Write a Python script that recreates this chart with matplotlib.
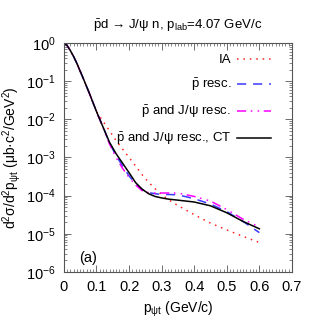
"""Differential cross section of pbar d -> J/psi n vs transverse momentum."""

import matplotlib
matplotlib.use("Agg")
import matplotlib.pyplot as plt
from matplotlib.ticker import (MultipleLocator, LogLocator, NullFormatter,
                               FuncFormatter)

plt.rcParams["font.family"] = ["Liberation Sans", "DejaVu Sans"]
plt.rcParams["mathtext.fontset"] = "custom"
plt.rcParams["mathtext.rm"] = "Liberation Sans"
plt.rcParams["mathtext.it"] = "Liberation Sans:italic"
plt.rcParams["mathtext.bf"] = "Liberation Sans:bold"

# transverse momentum grid (GeV/c)
p_t = [0.0, 0.01, 0.02, 0.03, 0.04, 0.06, 0.08, 0.10, 0.12, 0.14, 0.16,
       0.18, 0.20, 0.22, 0.24, 0.26, 0.28, 0.30, 0.32, 0.35, 0.40, 0.45,
       0.50, 0.55, 0.60]

# cross sections (ub c^2 / GeV^2)
ia = [1.0, 8.6e-1, 6.3e-1, 4.4e-1, 2.9e-1, 1.15e-1, 4.4e-2, 1.58e-2,
      8.9e-3, 5.0e-3, 2.8e-3, 1.66e-3, 1.0e-3, 6.0e-4, 3.55e-4, 2.24e-4,
      1.51e-4, 1.07e-4, 7.9e-5, 5.5e-5, 3.16e-5, 1.9e-5, 1.26e-5, 8.5e-6,
      5.9e-6]
p_resc = [1.0, 8.6e-1, 6.3e-1, 4.4e-1, 2.9e-1, 1.15e-1, 4.4e-2, 1.6e-2,
          6.3e-3, 2.4e-3, 1.12e-3, 6.0e-4, 3.3e-4, 2.0e-4, 1.45e-4, 1.2e-4,
          1.12e-4, 1.07e-4, 1.07e-4, 1.05e-4, 8.3e-5, 6.0e-5, 3.8e-5,
          2.1e-5, 1.07e-5]
p_psi_resc = [1.0, 8.6e-1, 6.3e-1, 4.4e-1, 2.9e-1, 1.15e-1, 4.4e-2, 1.6e-2,
              6.2e-3, 2.25e-3, 1.0e-3, 5.2e-4, 3.0e-4, 1.9e-4, 1.35e-4,
              1.2e-4, 1.17e-4, 1.17e-4, 1.17e-4, 1.17e-4, 9.5e-5, 7.2e-5,
              4.3e-5, 2.4e-5, 1.5e-5]
p_psi_resc_ct = [1.0, 8.6e-1, 6.3e-1, 4.4e-1, 2.9e-1, 1.15e-1, 4.4e-2,
                 1.6e-2, 6.3e-3, 2.5e-3, 1.26e-3, 7.1e-4, 4.0e-4, 2.2e-4,
                 1.48e-4, 1.12e-4, 9.5e-5, 8.7e-5, 8.1e-5, 7.6e-5, 6.8e-5,
                 5.4e-5, 3.55e-5, 2.1e-5, 1.35e-5]

PBAR = r"$\bar{\mathrm{p}}$"
labels = ["IA", PBAR + " resc.", PBAR + " and J/\u03c8 resc.",
          PBAR + " and J/\u03c8 resc., CT"]


def x_label(value, _pos):
    return "0" if abs(value) < 1e-9 else f"{value:.1f}"


def main() -> None:
    fig = plt.figure(figsize=(3.18, 3.34), dpi=100)
    ax = fig.add_axes([0.201, 0.186, 0.717, 0.685])

    lw = 1.1
    ax.plot(p_t, ia, color="#ff2020", lw=lw, linestyle=(0, (1, 3.2)),
            label=labels[0])
    ax.plot(p_t, p_resc, color="#3a3aff", lw=lw, linestyle=(0, (6, 4.5)),
            label=labels[1])
    ax.plot(p_t, p_psi_resc, color="#ff00ff", lw=lw,
            linestyle=(0, (6, 3, 1, 3.5, 1, 3)), label=labels[2])
    ax.plot(p_t, p_psi_resc_ct, color="black", lw=lw, label=labels[3])

    ax.set_yscale("log")
    ax.set_xlim(0, 0.7)
    ax.set_ylim(1e-6, 1)
    ax.xaxis.set_major_locator(MultipleLocator(0.1))
    ax.xaxis.set_minor_locator(MultipleLocator(0.01))
    ax.xaxis.set_major_formatter(FuncFormatter(x_label))
    ax.yaxis.set_major_locator(LogLocator(base=10, numticks=10))
    ax.yaxis.set_minor_locator(LogLocator(base=10, subs=range(2, 10), numticks=20))
    ax.yaxis.set_minor_formatter(NullFormatter())
    ax.tick_params(which="both", direction="in", top=True, right=True,
                   labelsize=10.5, colors="#555555", labelcolor="black")
    ax.tick_params(which="major", length=5, width=0.6, pad=6)
    ax.tick_params(which="minor", length=2.5, width=0.5)
    for spine in ax.spines.values():
        spine.set_color("#555555")
        spine.set_linewidth(0.8)

    ax.set_xlabel("p$_{\\mathrm{\u03c8t}}$ (GeV/c)", fontsize=10)
    ax.set_ylabel("d$^2$\u03c3/d$^2$p$_{\\mathrm{\u03c8t}}$ "
                  "(\u03bcb\u00b7c$^2$/GeV$^2$)", fontsize=10, labelpad=2)
    ax.set_title(PBAR + "d \u2192 J/\u03c8 n, p$_{\\mathrm{lab}}$=4.07 GeV/c",
                 fontsize=9.5, pad=10)
    ax.text(0.068, 0.045, "(a)", transform=ax.transAxes, fontsize=10.5)

    ax.legend(loc="upper right", frameon=False, markerfirst=False,
              fontsize=9.5, handlelength=2.6, handletextpad=0.4,
              labelspacing=0.8, borderaxespad=1.2,
              bbox_to_anchor=(1.0, 1.045))

    fig.savefig("out.png", dpi=100)
    plt.close(fig)


if __name__ == "__main__":
    main()
